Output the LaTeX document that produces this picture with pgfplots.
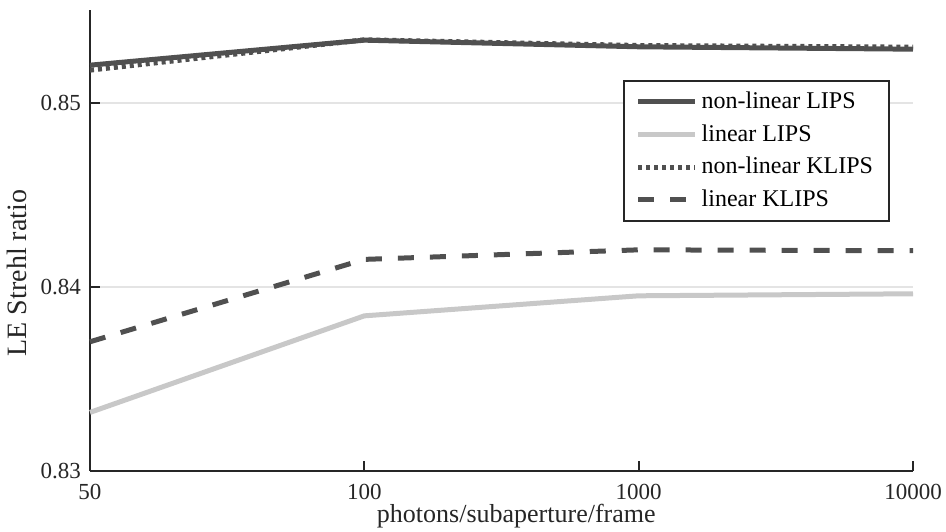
\documentclass[border=0pt]{standalone}
\usepackage{fontspec}
\setmainfont{Liberation Serif}
\usepackage{pgfplots}
\pgfplotsset{compat=1.18}

\definecolor{darkline}{RGB}{80,80,80}
\definecolor{lightline}{RGB}{200,200,200}
\definecolor{gridgray}{RGB}{228,228,228}
\definecolor{axisgray}{RGB}{38,38,38}

\newcommand{\chartfont}{\fontsize{11.5pt}{13pt}\selectfont}
\newcommand{\legfont}{\fontsize{12pt}{14pt}\selectfont}
\newcommand{\labelfont}{\fontsize{13pt}{15pt}\selectfont}
\newcommand{\ylabelfont}{\fontsize{14pt}{16pt}\selectfont}

\begin{document}
\begin{tikzpicture}
\useasboundingbox (-45pt,-30.15pt) rectangle (428pt,235.35pt);
\begin{axis}[
    at={(0,0)}, anchor=south west,
    scale only axis,
    width=411.5pt,
    height=230.35pt,
    xmin=0, xmax=3,
    ymin=0.83, ymax=0.85505,
    xtick={0,1,2,3},
    xticklabels={50,100,1000,10000},
    ytick={0.83,0.84,0.85},
    yticklabels={0.83,0.84,0.85},
    axis x line=bottom,
    axis y line=left,
    axis line style={-, axisgray, line width=1pt},
    tick align=inside,
    major tick length=5pt,
    tick style={axisgray, line width=1pt},
    ymajorgrids,
    grid style={gridgray, line width=1pt},
    tick label style={font=\chartfont, text=axisgray},
    yticklabel style={xshift=-1pt},
    xticklabel style={yshift=-3pt},
    xlabel={photons/subaperture/frame},
    ylabel={LE Strehl ratio},
    xlabel style={font=\labelfont, text=axisgray, at={(axis description cs:0.518,0)}, anchor=base, yshift=-25.65pt},
    ylabel style={font=\ylabelfont, text=axisgray, at={(ticklabel cs:0.429)}, anchor=near ticklabel},
    legend cell align=left,
    legend style={at={(rel axis cs:0.972,0.848)}, anchor=north east,
        draw=axisgray, line width=1pt, font=\legfont,
        inner xsep=6pt, inner ysep=3.5pt, row sep=2.5pt,
        nodes={inner ysep=2pt}},
    legend image code/.code={\draw[#1] (0pt,0pt) -- (28.5pt,0pt);},
    clip=false,
]
\addplot[darkline, line width=2.5pt] coordinates {
    (0,0.85205) (1,0.85341) (2,0.85305) (3,0.85292)
};
\addlegendentry{non-linear LIPS}

\addplot[lightline, line width=2.5pt] coordinates {
    (0,0.83317) (1,0.83842) (2,0.83951) (3,0.83962)
};
\addlegendentry{linear LIPS}

\addplot[darkline, line width=2.5pt, dash pattern=on 2pt off 2pt] coordinates {
    (0,0.85178) (1,0.85343) (2,0.85312) (3,0.85303)
};
\addlegendentry{non-linear KLIPS\hspace{6pt}}

\addplot[darkline, line width=2.5pt, dash pattern=on 8pt off 8pt] coordinates {
    (0,0.83701) (1,0.84149) (2,0.84201) (3,0.84196)
};
\addlegendentry{linear KLIPS}

\end{axis}
\end{tikzpicture}
\end{document}
